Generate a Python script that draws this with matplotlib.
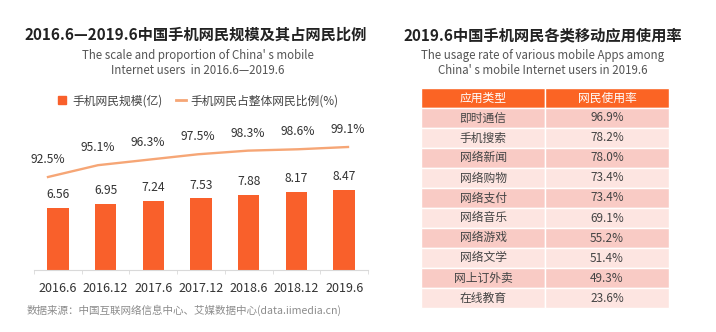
import numpy as np
import matplotlib
matplotlib.use("Agg")
import matplotlib.pyplot as plt
from matplotlib.lines import Line2D

plt.rcParams["font.family"] = ["Noto Sans CJK SC", "DejaVu Sans"]

# 左图数据
periods = ["2016.6", "2016.12", "2017.6", "2017.12", "2018.6", "2018.12", "2019.6"]
users = [6.56, 6.95, 7.24, 7.53, 7.88, 8.17, 8.47]  # 亿
share = [92.5, 95.1, 96.3, 97.5, 98.3, 98.6, 99.1]  # %

# 右表数据
app_types = ["即时通信", "手机搜索", "网络新闻", "网络购物", "网络支付",
             "网络音乐", "网络游戏", "网络文学", "网上订外卖", "在线教育"]
usage_rate = [96.9, 78.2, 78.0, 73.4, 73.4, 69.1, 55.2, 51.4, 49.3, 23.6]

BAR = "#F9602B"
LINE = "#F6A676"
HEAD = "#FB6424"
DARK_ROW = "#F9CBC5"
LIGHT_ROW = "#FDE5E1"

W, H = 716, 332
fig = plt.figure(figsize=(W / 100, H / 100), dpi=100)


def px_axes(x0, y0, x1, y1):
    """像素坐标(左上原点) -> figure 坐标"""
    return fig.add_axes([x0 / W, 1 - y1 / H, (x1 - x0) / W, (y1 - y0) / H])


# ---------- 左侧：柱状图 + 折线 ----------
fig.text(196 / W, 1 - 35 / H, "2016.6—2019.6中国手机网民规模及其占网民比例",
         ha="center", va="center", fontsize=11, fontweight="bold", color="#222222")
fig.text(198 / W, 1 - 55 / H, "The scale and proportion of China' s mobile",
         ha="center", va="center", fontsize=8.3, color="#555555")
fig.text(198 / W, 1 - 70 / H, "Internet users  in 2016.6—2019.6",
         ha="center", va="center", fontsize=8.3, color="#555555")

ax = px_axes(34, 120, 368, 270)
x = np.arange(len(periods))
ax.bar(x, users, width=0.45, color=BAR, zorder=2)
for xi, v in zip(x, users):
    ax.annotate(f"{v:.2f}", (xi, v), xytext=(0, 5), textcoords="offset points",
                ha="center", va="bottom", fontsize=8.7, color="#333333")
ax.set_xlim(-0.5, 6.5)
ax.set_ylim(0, 150 / 9.5)
ax.set_xticks(x)
ax.set_xticklabels(periods, fontsize=9, color="#333333")
ax.set_xticks(np.arange(-0.5, 7, 1), minor=True)
ax.tick_params(axis="x", which="major", length=0, pad=9)
ax.tick_params(axis="x", which="minor", length=3, color="#D9D9D9")
ax.set_yticks([])
for s in ["top", "right", "left"]:
    ax.spines[s].set_visible(False)
ax.spines["bottom"].set_color("#D9D9D9")
ax.patch.set_alpha(0)

# 折线（单独坐标轴）
ax2 = px_axes(34, 120, 368, 270)
ax2.set_xlim(-0.28, 6.4)
ax2.set_ylim(72.04, 105.04)
ax2.plot(x, share, color=LINE, lw=1.7)
for xi, v in zip(x, share):
    ax2.annotate(f"{v:.1f}%", (xi, v), xytext=(0, 8), textcoords="offset points",
                 ha="center", va="bottom", fontsize=8.7, color="#333333")
ax2.axis("off")

handles = [
    Line2D([], [], marker="s", linestyle="none", color=BAR, markersize=6),
    Line2D([], [], color=LINE, lw=2),
]
fig.legend(handles, ["手机网民规模(亿)", "手机网民占整体网民比例(%)"],
           loc="center", bbox_to_anchor=(198 / W, 1 - 101 / H), ncol=2,
           frameon=False, fontsize=8.5, handlelength=0.9, handletextpad=0.4,
           columnspacing=1.1, labelcolor="#444444")

fig.text(27 / W, 1 - 310 / H,
         "数据来源：中国互联网络信息中心、艾媒数据中心(data.iimedia.cn)",
         ha="left", va="center", fontsize=7.6, color="#8C8C8C")

# ---------- 右侧：表格 ----------
fig.text(543 / W, 1 - 35 / H, "2019.6中国手机网民各类移动应用使用率",
         ha="center", va="center", fontsize=11, fontweight="bold", color="#222222")
fig.text(543 / W, 1 - 55 / H, "The usage rate of various mobile Apps among",
         ha="center", va="center", fontsize=8.3, color="#555555")
fig.text(543 / W, 1 - 70 / H, "China' s mobile Internet users in 2019.6",
         ha="center", va="center", fontsize=8.3, color="#555555")

tax = px_axes(421, 88, 669, 308)
tax.axis("off")
cell_text = [[a, f"{r:.1f}%"] for a, r in zip(app_types, usage_rate)]
tbl = tax.table(cellText=cell_text, colLabels=["应用类型", "网民使用率"],
                cellLoc="center", bbox=[0, 0, 1, 1])
tbl.auto_set_font_size(False)
for (r, c), cell in tbl.get_celld().items():
    cell.set_edgecolor("white")
    cell.set_linewidth(1)
    cell.get_text().set_fontsize(8.5)
    if r == 0:
        cell.set_facecolor(HEAD)
        cell.get_text().set_color("white")
    else:
        cell.set_facecolor(DARK_ROW if r % 2 == 1 else LIGHT_ROW)
        cell.get_text().set_color("#444444")

fig.savefig("out.png", dpi=100)
